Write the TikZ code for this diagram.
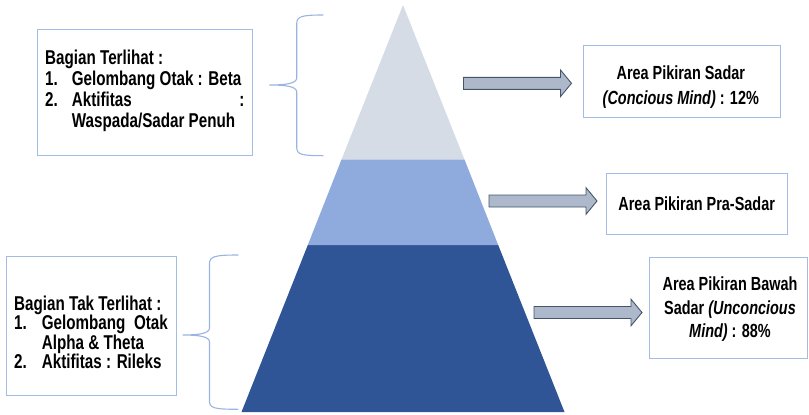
\documentclass[tikz,border=0pt]{standalone}
\usepackage{fontspec}
\setmainfont[FakeStretch=0.76, UprightFont=* Bold, ItalicFont=* Bold Italic]{Liberation Sans}

\definecolor{bandtop}{HTML}{D6DCE5}
\definecolor{bandmid}{HTML}{8FAADC}
\definecolor{bandlow}{HTML}{2F5597}
\definecolor{boxline}{HTML}{A4BCE4}
\definecolor{braceline}{HTML}{9AB3E0}
\definecolor{arrfill}{HTML}{ADB9CA}
\definecolor{arrline}{HTML}{44546A}

% block arrow: shaft start x, tip x, centre y
\newcommand\blockarr[3]{%
  \draw[arrowbody] (#1,#3-6) -- (#2-11,#3-6) -- (#2-11,#3-13.3) -- (#2,#3)
    -- (#2-11,#3+13.3) -- (#2-11,#3+6) -- (#1,#3+6) -- cycle;}

\tikzset{
  arrowbody/.style={fill=arrfill, draw=arrline, line width=0.9pt, line join=miter},
  infobox/.style={draw=boxline, line width=0.9pt, fill=white},
  bracestyle/.style={draw=braceline, line width=1.1pt},
  txt/.style={inner sep=0pt, text=black},
  ltxt/.style={txt, font=\fontsize{20}{19}\selectfont, anchor=base west},
  ctxt/.style={txt, font=\fontsize{19}{19}\selectfont, anchor=base},
}

\begin{document}
\begin{tikzpicture}[x=1pt, y=-1pt]
\useasboundingbox (0,0) rectangle (809,415);

% pyramid bands
\fill[bandlow] (307.8,245) -- (498.2,245) -- (564.5,412) -- (241.5,412) -- cycle;
\fill[bandmid] (341.6,159.3) -- (464.4,159.3) -- (498.2,245) -- (307.8,245) -- cycle;
\fill[bandtop] (403,5) -- (464.4,159.3) -- (341.6,159.3) -- cycle;

% braces
\draw[bracestyle] (323.3,15) .. controls (301,15) and (296.7,16.5) .. (296.7,24)
  -- (296.7,78) .. controls (296.7,83.5) and (286,85) .. (269.3,85)
  .. controls (286,85) and (296.7,86.5) .. (296.7,92)
  -- (296.7,147) .. controls (296.7,154.5) and (301,155.7) .. (323.3,155.7);
\draw[bracestyle] (238.3,255) .. controls (214,255) and (209.5,256.5) .. (209.5,264)
  -- (209.5,328) .. controls (209.5,333.5) and (199,335) .. (182.7,335)
  .. controls (199,335) and (209.5,336.5) .. (209.5,342)
  -- (209.5,401) .. controls (209.5,408) and (214,409.3) .. (238.3,409.3);

% left boxes
\draw[infobox] (37,29) rectangle (252,155);
\node[ltxt] (v0) at (45,64.5) {Bagian Terlihat :};
\node[ltxt] (v1) at (45,85.5) {\makebox[26.7pt][l]{1.}Gelombang Otak : Beta};
\node[ltxt] (v2) at (45,106.5) {\makebox[26.7pt][l]{2.}\makebox[172.5pt][l]{Aktifitas\hfill:}};
\node[ltxt] (v3) at (71.7,127) {Waspada/Sadar Penuh};

\draw[infobox] (6,256) rectangle (176,395.7);
\node[ltxt] (h0) at (14,310) {Bagian Tak Terlihat :};
\node[ltxt] (h1) at (14,329.5) {\makebox[27.7pt][l]{1.}\makebox[126pt][s]{Gelombang Otak}};
\node[ltxt] (h2) at (41.7,349) {Alpha \& Theta};
\node[ltxt] (h3) at (14,368) {\makebox[27.7pt][l]{2.}Aktifitas : Rileks};

% right boxes
\draw[infobox] (583,45) rectangle (780,117);
\node[ctxt] (s0) at (680.8,79) {Area Pikiran Sadar};
\node[ctxt] (s1) at (680.8,104) {\textit{(Concious Mind)} : 12\%};

\draw[infobox] (606,173) rectangle (787,234);
\node[ctxt] (p0) at (696.7,210) {Area Pikiran Pra-Sadar};

\draw[infobox] (649.3,257.3) rectangle (807.3,358.3);
\node[ctxt] (b0) at (730,290) {Area Pikiran Bawah};
\node[ctxt] (b1) at (730,314) {Sadar \textit{(Unconcious}};
\node[ctxt] (b2) at (730,337.5) {\textit{Mind)} : 88\%};

% block arrows
\blockarr{463.5}{571.5}{83.3}
\blockarr{489}{597}{201}
\blockarr{534}{642}{312.5}
\end{tikzpicture}
\end{document}
